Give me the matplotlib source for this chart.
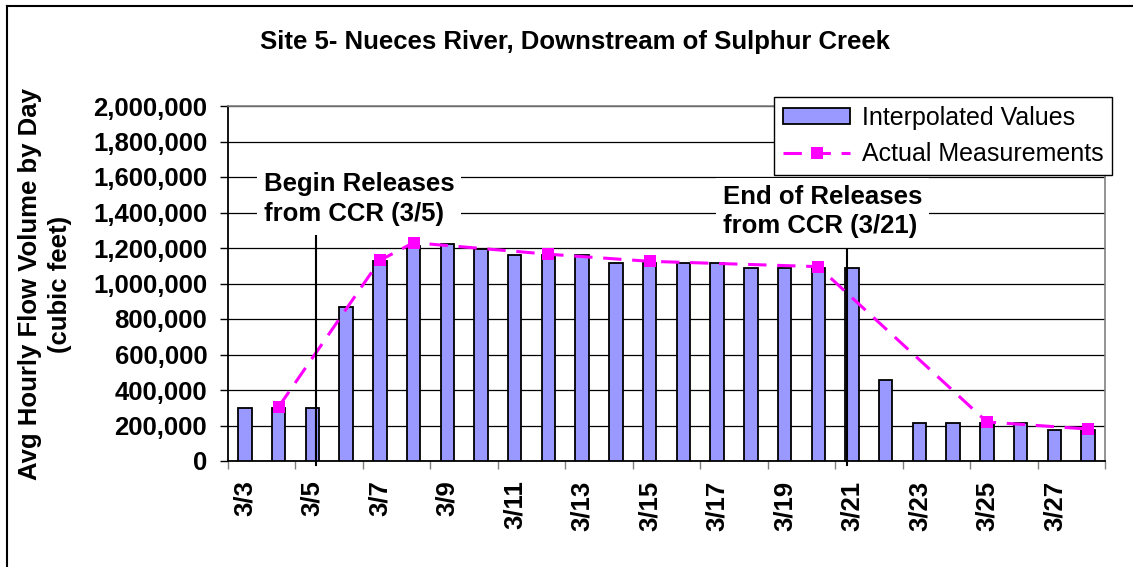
import matplotlib
matplotlib.use("Agg")
import matplotlib.pyplot as plt
from matplotlib.lines import Line2D
import numpy as np

plt.rcParams['font.family'] = ['Liberation Sans', 'DejaVu Sans']

# ---- data ----
dates = ['3/3', '3/4', '3/5', '3/6', '3/7', '3/8', '3/9', '3/10', '3/11', '3/12',
         '3/13', '3/14', '3/15', '3/16', '3/17', '3/18', '3/19', '3/20', '3/21',
         '3/22', '3/23', '3/24', '3/25', '3/26', '3/27', '3/28']
interpolated = [300000, 300000, 300000, 865000, 1125000, 1210000, 1225000, 1195000,
                1160000, 1160000, 1160000, 1115000, 1115000, 1115000, 1115000,
                1090000, 1090000, 1090000, 1090000, 455000, 215000, 215000, 215000,
                215000, 175000, 175000]
meas_dates = ['3/4', '3/7', '3/8', '3/12', '3/15', '3/20', '3/25', '3/28']
meas_values = [305000, 1130000, 1230000, 1165000, 1125000, 1095000, 220000, 180000]
y_ticks = [0, 200000, 400000, 600000, 800000, 1000000, 1200000, 1400000,
           1600000, 1800000, 2000000]
begin_label = 'Begin Releases\nfrom CCR (3/5)'
end_label = 'End of Releases\nfrom CCR (3/21)'
begin_date, end_date = '3/5', '3/21'

FS = 18.5
W, H = 1133, 567
fig = plt.figure(figsize=(W / 100, H / 100), dpi=100)
ax = fig.add_axes([228 / W, 1 - 461 / H, (1105 - 228) / W, (461 - 106) / H])

x = np.arange(len(dates))
bar_color = '#9999FF'
bars = ax.bar(x, interpolated, width=0.4, color=bar_color, edgecolor='black',
              linewidth=1.3, zorder=3, label='Interpolated Values')

mx = [dates.index(d) for d in meas_dates]
line, = ax.plot(mx, meas_values, color='#FF00FF', linewidth=2.2, dashes=(6, 3.5),
                marker='s', markersize=9, markeredgewidth=0, zorder=5,
                label='Actual Measurements')

# release lines
bx = dates.index(begin_date) + 0.1
ex = dates.index(end_date) - 0.15
ax.plot([bx, bx], [-20000, 1265000], color='black', lw=1.5, zorder=6, clip_on=False)
ax.plot([ex, ex], [-20000, 1190000], color='black', lw=1.5, zorder=6, clip_on=False)

bbox = dict(facecolor='white', edgecolor='none', pad=5)
ax.text(0.56, 1.478e6, begin_label, fontsize=FS, fontweight='bold', ha='left',
        va='center', linespacing=1.3, bbox=bbox, zorder=4)
ax.text(14.17, 1.406e6, end_label, fontsize=FS, fontweight='bold', ha='left',
        va='center', linespacing=1.3, bbox=bbox, zorder=4)

ax.set_xlim(-0.5, len(dates) - 0.5)
ax.set_ylim(0, 2000000)
ax.set_yticks(y_ticks)
ax.set_yticklabels([f'{v:,}' for v in y_ticks], fontsize=FS, fontweight='bold')
ax.yaxis.grid(True, color='black', linewidth=0.9, zorder=0)
ax.set_axisbelow(True)

ax.set_xticks(x[::2])
ax.set_xticklabels(dates[::2], rotation=90, fontsize=FS, fontweight='bold')
ax.set_xticks(np.arange(-0.5, len(dates), 2), minor=True)
ax.tick_params(axis='x', which='major', length=0, pad=14)
ax.tick_params(axis='x', which='minor', length=6, width=1, color='#808080')
ax.tick_params(axis='y', length=6, width=1, pad=9, color='black')

for s in ['top', 'right']:
    ax.spines[s].set_color('#808080')
    ax.spines[s].set_linewidth(1.2)
for s in ['left', 'bottom']:
    ax.spines[s].set_color('black')
    ax.spines[s].set_linewidth(1.3)

leg = ax.legend([bars, line], ['Interpolated Values', 'Actual Measurements'],
                loc='upper right', bbox_to_anchor=(1.008, 1.025), borderaxespad=0,
                fontsize=18, frameon=True, fancybox=False, framealpha=1,
                edgecolor='black', handlelength=2.7, handleheight=0.6,
                handletextpad=0.45, labelspacing=0.5, borderpad=0.35)
leg.get_frame().set_linewidth(1.0)
leg.set_zorder(10)

fig.text(575 / W, 1 - 42 / H, 'Site 5- Nueces River, Downstream of Sulphur Creek',
         fontsize=FS, fontweight='bold', ha='center', va='center')
fig.text(45 / W, 1 - 284 / H, 'Avg Hourly Flow Volume by Day\n(cubic feet)',
         fontsize=FS, fontweight='bold', rotation=90, ha='center', va='center',
         multialignment='center', linespacing=1.3)

# chart-area border (top and left visible)
fig.add_artist(Line2D([7 / W, 7 / W], [0, 1 - 6 / H], transform=fig.transFigure,
                      color='black', lw=1.5))
fig.add_artist(Line2D([7 / W, 1], [1 - 6 / H, 1 - 6 / H], transform=fig.transFigure,
                      color='black', lw=1.5))

fig.savefig('out.png', dpi=100)
